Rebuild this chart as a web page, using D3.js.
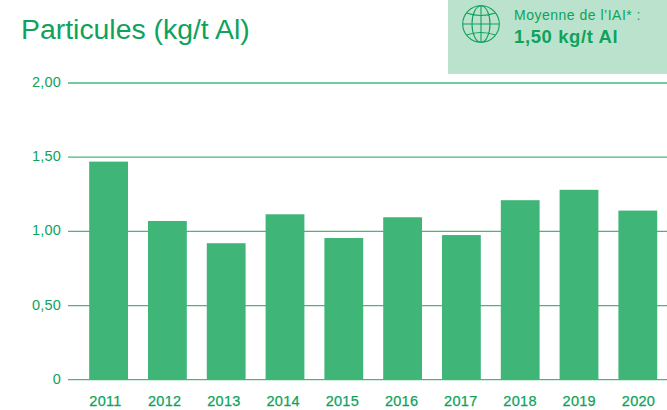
<!DOCTYPE html>
<html><head><meta charset="utf-8">
<script src="https://cdn.jsdelivr.net/npm/d3@7/dist/d3.min.js"></script>
<style>html,body{margin:0;padding:0;background:#fff}svg{display:block}text{font-family:"Liberation Sans",Arial,sans-serif}</style>
</head><body><svg id="c" width="667" height="410"></svg>
<script>
const years=["2011","2012","2013","2014","2015","2016","2017","2018","2019","2020"];
const values=[1.47,1.07,0.92,1.115,0.955,1.095,0.975,1.21,1.28,1.14];
const yTicks=[0,0.5,1,1.5,2];
const yTickLabels=["0","0,50","1,00","1,50","2,00"];
const title="Particules (kg/t Al)";
const calloutLines=["Moyenne de l’IAI* :","1,50 kg/t Al"];
const TXT="#0ea25c",BAR="#3fb578",GRID="#45b87e",BOX="#bae2cd";
const svg=d3.select("#c");
const x=d3.scaleBand().domain(years).range([79.2,667.2]).paddingInner(20/58.8).paddingOuter(10/58.8);
const xLabel=d3.scalePoint().domain(years).range([105.5,638.5]);
const y=d3.scaleLinear().domain([0,2]).range([379.7,83]);
svg.append("text").attr("x",21).attr("y",38.5).attr("font-size",28.4).attr("fill",TXT).text(title);
svg.append("rect").attr("x",448).attr("y",0).attr("width",219).attr("height",74).attr("fill",BOX);
const g=svg.append("g").attr("transform","translate(481,24)").attr("fill","none").attr("stroke",TXT).attr("stroke-width",1.1);
g.append("circle").attr("r",18.3);
g.append("ellipse").attr("rx",9).attr("ry",18.3);
g.append("line").attr("y1",-18.3).attr("y2",18.3);
g.append("line").attr("x1",-18.3).attr("x2",18.3);
g.append("path").attr("d","M-14.5,-11 Q0,-6 14.5,-11");
g.append("path").attr("d","M-14.5,11 Q0,6 14.5,11");
svg.append("text").attr("x",514).attr("y",20).attr("font-size",14).attr("letter-spacing",0.5).attr("fill",TXT).text(calloutLines[0]);
svg.append("text").attr("x",514).attr("y",42.5).attr("font-size",18.5).attr("letter-spacing",0.6).attr("font-weight","bold").attr("fill",TXT).text(calloutLines[1]);
svg.selectAll("line.grid").data(yTicks).join("line").attr("class","grid")
 .attr("x1",68).attr("x2",667).attr("y1",d=>y(d)).attr("y2",d=>y(d)).attr("stroke",GRID).attr("stroke-width",1.3);
svg.selectAll("text.yl").data(yTicks).join("text").attr("class","yl")
 .attr("x",61).attr("y",d=>y(d)+4).attr("text-anchor","end").attr("font-size",14.5).attr("letter-spacing",0.2).attr("fill",TXT).text((d,i)=>yTickLabels[i]);
svg.selectAll("rect.bar").data(values).join("rect").attr("class","bar")
 .attr("x",(d,i)=>x(years[i])).attr("width",x.bandwidth()).attr("y",d=>y(d)).attr("height",d=>y(0)-y(d)).attr("fill",BAR);
svg.selectAll("text.xl").data(years).join("text").attr("class","xl")
 .attr("x",d=>xLabel(d)).attr("y",406).attr("text-anchor","middle").attr("font-size",14.5).attr("letter-spacing",0.3).attr("stroke",TXT).attr("stroke-width",0.25).attr("fill",TXT).text(d=>d);
</script></body></html>
